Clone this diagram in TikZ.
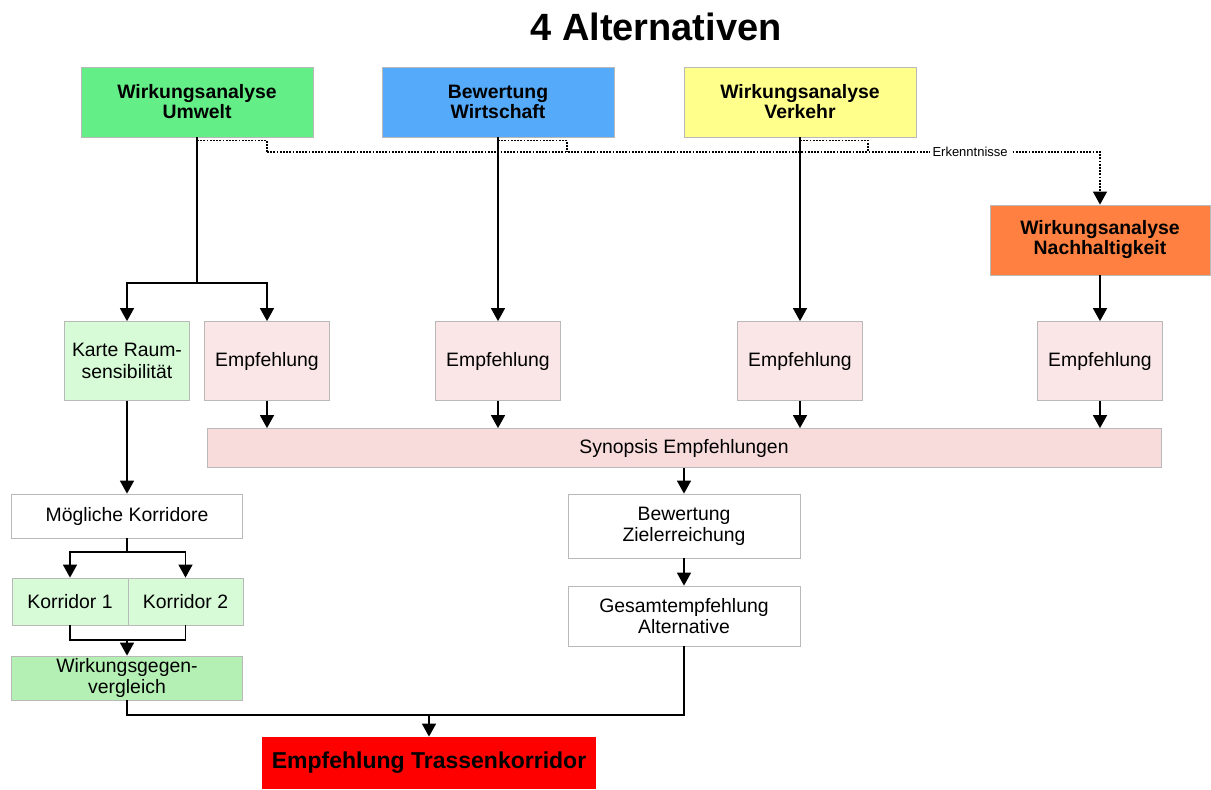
\documentclass[tikz,border=0pt]{standalone}
\usepackage{fontspec}
\setmainfont{Liberation Sans}
\usetikzlibrary{arrows.meta}
\definecolor{umwgreen}{RGB}{100,238,135}
\definecolor{wisblue}{RGB}{85,170,250}
\definecolor{vkyellow}{RGB}{255,255,140}
\definecolor{nhorange}{RGB}{255,128,64}
\definecolor{lightgreen}{RGB}{215,250,215}
\definecolor{midgreen}{RGB}{180,240,180}
\definecolor{empfpink}{RGB}{250,230,230}
\definecolor{synpink}{RGB}{248,220,220}
\tikzstyle{box} = [rectangle, draw=gray!55, inner sep=0pt, align=center,
                 font=\fontsize{9.7}{10.6}\selectfont]
\tikzstyle{head} = [box, font=\bfseries\fontsize{9.7}{10}\selectfont,
                 minimum width=116pt, minimum height=35pt]
\tikzstyle{empf} = [box, fill=empfpink, minimum width=62.5pt, minimum height=39.5pt]
\tikzstyle{branch} = [thick, draw, -{Triangle[length=6.5pt,width=7pt]}]
\tikzstyle{link} = [thick, draw]
\tikzstyle{hint} = [draw, dash pattern=on 0.9pt off 0.7pt, semithick]

\begin{document}
\begin{tikzpicture}[x=0.5pt,y=-0.5pt]
\useasboundingbox (0,0) rectangle (1211,789);

\node [font=\bfseries\fontsize{19}{22}\selectfont] (title) at (656,27) {4 Alternativen};

%top row
\node [head, fill=umwgreen] (umw) at (197,102) {Wirkungsanalyse\\Umwelt};
\node [head, fill=wisblue] (wis) at (498,102) {Bewertung\\Wirtschaft};
\node [head, fill=vkyellow] (vk) at (800,102) {Wirkungsanalyse\\Verkehr};
\node [head, fill=nhorange, minimum width=110pt] (nh) at (1100,240) {Wirkungsanalyse\\Nachhaltigkeit};

\node [box, fill=lightgreen, minimum width=62.5pt, minimum height=39.5pt]
	(karte) at (127,361) {Karte Raum-\\sensibilität};
\foreach \x/\name in {267/e1, 498/e2, 800/e3, 1100/e4}
	\node [empf] (\name) at (\x,361) {Empfehlung};

\node [box, fill=synpink, minimum width=477pt, minimum height=19.5pt]
	(syn) at (684,448) {Synopsis Empfehlungen};
\node [box, fill=white, minimum width=116pt, minimum height=32pt]
	(ziel) at (684,526) {Bewertung\\Zielerreichung};
\node [box, fill=white, minimum width=116pt, minimum height=30pt]
	(gesamt) at (684,616) {Gesamtempfehlung\\Alternative};

%left column
\node [box, fill=white, minimum width=115.5pt, minimum height=22pt]
	(mk) at (127,516) {Mögliche Korridore};
\node [box, fill=lightgreen, minimum width=58pt, minimum height=23.5pt]
	(k1) at (70,601.5) {Korridor 1};
\node [box, fill=lightgreen, minimum width=57.5pt, minimum height=23.5pt]
	(k2) at (185.5,601.5) {Korridor 2};
\node [box, fill=midgreen, minimum width=115.5pt, minimum height=22pt]
	(wg) at (127,678) {Wirkungsgegen-\\vergleich};

\node [box, draw=none, fill=red, minimum width=167pt, minimum height=26pt,
	font=\bfseries\fontsize{11.5}{13}\selectfont] (trasse) at (429,763) {Empfehlung Trassenkorridor};

\coordinate (uw) at (197,283);
\coordinate (mkb) at (127,552);
\coordinate (kk) at (127,640);
\coordinate (tr) at (429,715);
\coordinate (d1) at (267,152);
\coordinate (d2) at (567,152);
\coordinate (d3) at (868,152);

\path [link] (umw.south) -- (uw);
\path [branch] (uw) -| (karte.north);
\path [branch] (uw) -| (e1.north);
\path [branch] (wis.south) -- (e2.north);
\path [branch] (vk.south) -- (e3.north);
\path [branch] (nh.south) -- (e4.north);

\foreach \name in {e1, e2, e3, e4}
	\path [branch] (\name.south) -- (\name.south |- syn.north);

\path [branch] (syn.south -| ziel.north) -- (ziel.north);
\path [branch] (ziel.south) -- (gesamt.north);

\path [branch] (karte.south) -- (karte.south |- mk.north);
\path [link] (mk.south) -- (mkb);
\path [branch] (mkb) -| (k1.north);
\path [branch] (mkb) -| (k2.north);
\path [link] (k1.south) |- (kk);
\path [link] (k2.south) |- (kk);
\path [branch] (kk) -- (wg.north);

\path [link] (wg.south) |- (tr);
\path [link] (gesamt.south) |- (tr);
\path [branch] (tr) -- (trasse.north);

%dotted feedback
\path [hint] ([yshift=-1.5pt]umw.south) -- ([yshift=-1.5pt]umw.south -| d1) -- (d1);
\path [hint] ([yshift=-1.5pt]wis.south) -- ([yshift=-1.5pt]wis.south -| d2) -- (d2);
\path [hint] ([yshift=-1.5pt]vk.south) -- ([yshift=-1.5pt]vk.south -| d3) -- (d3);
\path [hint, -{Triangle[length=6.5pt,width=7pt]}] (d1) -- (d3)
	-- node [pos=0.44, fill=white, inner sep=1.5pt, font=\fontsize{6.5}{7}\selectfont] (erk) {Erkenntnisse}
	(d3 -| nh.north) -- (nh.north);

\end{tikzpicture}
\end{document}
